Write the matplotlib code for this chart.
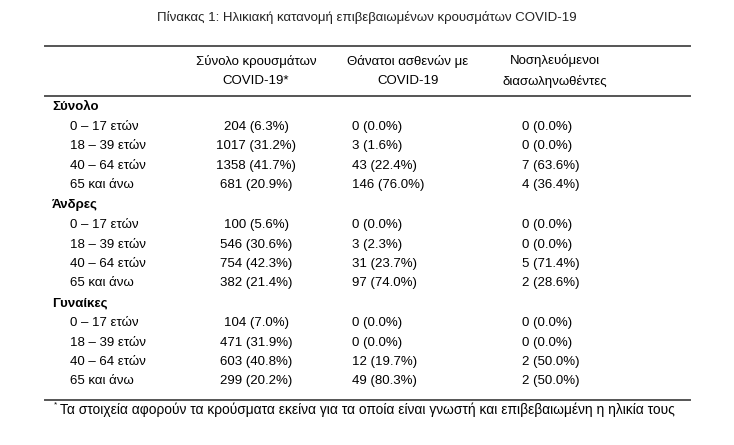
import matplotlib.pyplot as plt

plt.rcParams['font.family'] = ['Liberation Sans Narrow', 'Liberation Sans', 'DejaVu Sans']

title = "Πίνακας 1: Ηλικιακή κατανομή επιβεβαιωμένων κρουσμάτων COVID-19"
headers = ["Σύνολο κρουσμάτων\nCOVID-19*", "Θάνατοι ασθενών με\nCOVID-19", "Νοσηλευόμενοι\nδιασωληνωθέντες"]
groups = ["Σύνολο", "Άνδρες", "Γυναίκες"]
ages = ["0 – 17 ετών", "18 – 39 ετών", "40 – 64 ετών", "65 και άνω"]
cases = [["204 (6.3%)", "1017 (31.2%)", "1358 (41.7%)", "681 (20.9%)"],
         ["100 (5.6%)", "546 (30.6%)", "754 (42.3%)", "382 (21.4%)"],
         ["104 (7.0%)", "471 (31.9%)", "603 (40.8%)", "299 (20.2%)"]]
deaths = [["0 (0.0%)", "3 (1.6%)", "43 (22.4%)", "146 (76.0%)"],
          ["0 (0.0%)", "3 (2.3%)", "31 (23.7%)", "97 (74.0%)"],
          ["0 (0.0%)", "0 (0.0%)", "12 (19.7%)", "49 (80.3%)"]]
icu = [["0 (0.0%)", "0 (0.0%)", "7 (63.6%)", "4 (36.4%)"],
       ["0 (0.0%)", "0 (0.0%)", "5 (71.4%)", "2 (28.6%)"],
       ["0 (0.0%)", "0 (0.0%)", "2 (50.0%)", "2 (50.0%)"]]
footnote = "Τα στοιχεία αφορούν τα κρούσματα εκείνα για τα οποία είναι γνωστή και επιβεβαιωμένη η ηλικία τους"

W, H = 734, 445
fig = plt.figure(figsize=(W / 100, H / 100), dpi=100)
ax = fig.add_axes([0, 0, 1, 1])
ax.set_xlim(0, W)
ax.set_ylim(H, 0)
ax.axis('off')

fs = 9.5
ax.text(367, 18, title, ha='center', va='center', fontsize=fs, color='#222222')
for y in (46, 96, 400):
    ax.plot([45, 690], [y, y], color='#555555', lw=1.4)

hx = [256, 408, 555]
for x, h in zip(hx, headers):
    ax.text(x, 71, h, ha='center', va='center', fontsize=fs, linespacing=1.8)

y = 107
for g in range(3):
    ax.text(52, y, groups[g], ha='left', va='center', fontsize=fs, fontweight='bold')
    y += 20
    for a in range(4):
        ax.text(70, y, ages[a], ha='left', va='center', fontsize=fs)
        ax.text(256, y, cases[g][a], ha='center', va='center', fontsize=fs)
        ax.text(352, y, deaths[g][a], ha='left', va='center', fontsize=fs)
        ax.text(522, y, icu[g][a], ha='left', va='center', fontsize=fs)
        y += 19.3
    y += 1

ax.text(54, 405, "*", ha='left', va='center', fontsize=6)
ax.text(60, 410, footnote, ha='left', va='center', fontsize=9.9)

fig.savefig("out.png", dpi=100)
